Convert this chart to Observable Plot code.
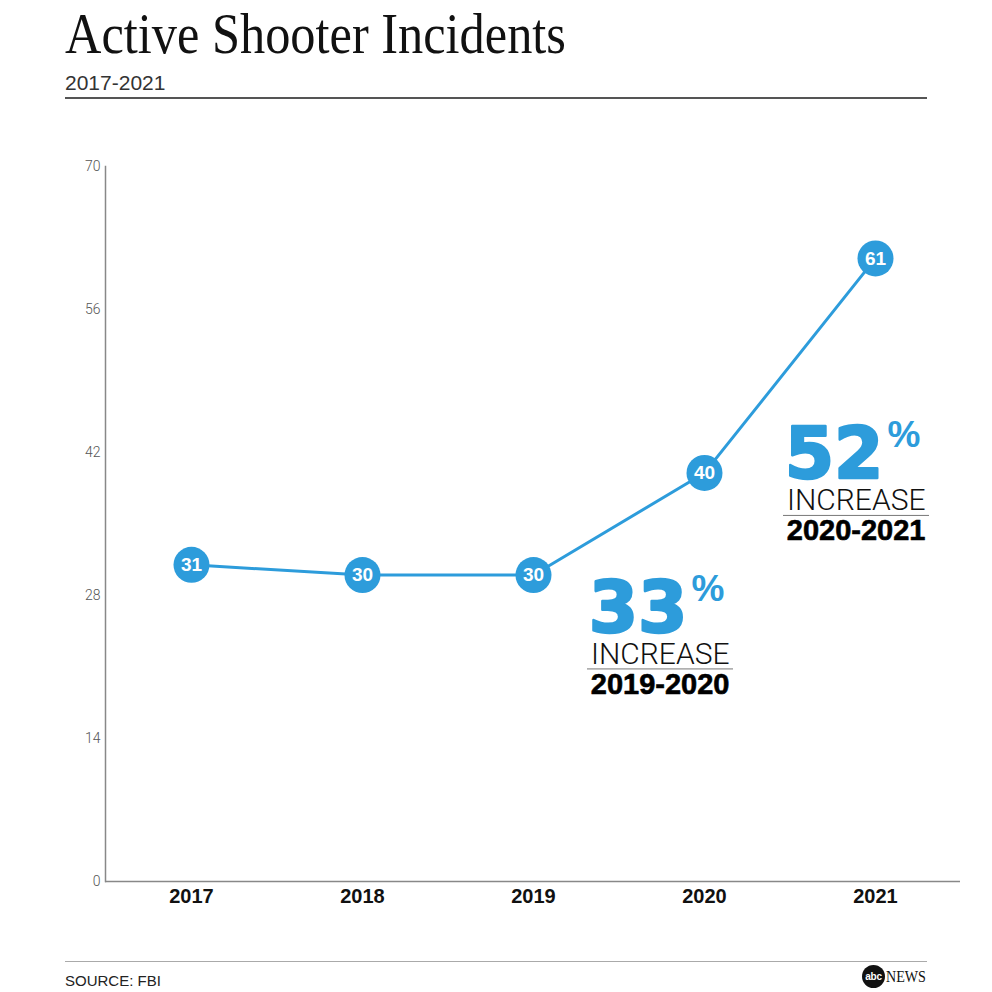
<!DOCTYPE html>
<html>
<head>
<meta charset="utf-8">
<script src="https://cdn.jsdelivr.net/npm/d3@7"></script>
<script src="https://cdn.jsdelivr.net/npm/@observablehq/plot@0.6"></script>
<style>
  html, body { margin: 0; padding: 0; background: #fff; }
  #wrap { position: relative; width: 992px; height: 992px; overflow: hidden; background: #fff; }
  #title { position: absolute; left: 65px; top: 5px; font-family: "Liberation Serif", serif; font-size: 57px; line-height: 57px; color: #111; white-space: nowrap; transform: scaleX(0.884); transform-origin: left top; }
  #subtitle { position: absolute; left: 65px; top: 72px; font-family: "Liberation Sans", sans-serif; font-size: 21px; line-height: 21px; color: #333; }
  #rule1 { position: absolute; left: 65px; top: 97px; width: 862px; height: 1.5px; background: #555; }
  #chart { position: absolute; left: 0; top: 120px; }
  #rule2 { position: absolute; left: 65px; top: 961px; width: 862px; height: 1px; background: #aaa; }
  #source { position: absolute; left: 65px; top: 973px; font-family: "Liberation Sans", sans-serif; font-size: 15px; line-height: 15px; color: #222; }
  #logo { position: absolute; left: 862px; top: 965px; height: 23px; display: flex; align-items: center; }
  #logo .abc { display: inline-block; width: 23px; height: 23px; border-radius: 50%; background: #111; color: #fff; font-family: "Liberation Sans", sans-serif; font-weight: 700; font-size: 10px; line-height: 23px; text-align: center; letter-spacing: -0.3px; }
  #logo .news { display: inline-block; margin-left: 1px; font-family: "Liberation Serif", serif; font-size: 16px; line-height: 23px; color: #111; transform: scaleX(0.88); transform-origin: left center; }
</style>
</head>
<body>
<div id="wrap">
  <div id="title">Active Shooter Incidents</div>
  <div id="subtitle">2017-2021</div>
  <div id="rule1"></div>
  <div id="chart"></div>
  <div id="rule2"></div>
  <div id="source">SOURCE: FBI</div>
  <div id="logo"><span class="abc">abc</span><span class="news">NEWS</span></div>
</div>
<script>
// ---- data ----
const years = ["2017", "2018", "2019", "2020", "2021"];
const incidents = [31, 30, 30, 40, 61];
const yTicks = [0, 14, 28, 42, 56, 70];
const increaseFrom = ["2019", "2020"];
const increaseTo = ["2020", "2021"];
const increasePct = [33, 52];

// ---- build ----
const blue = "#2d9cdb";
const data = years.map((year, i) => ({year, value: incidents[i]}));
const notes = increaseTo.map((to, i) => ({
  year: to,
  value: incidents[years.indexOf(to)],
  pct: String(increasePct[i]),
  span: `${increaseFrom[i]}-${to}`
}));

function note(d, bx, by) {
  const at = {x: "year", y: "value"};
  return [
    Plot.text([d], {...at, text: "pct", dx: bx, dy: by, textAnchor: "end", lineAnchor: "bottom",
      fill: blue, stroke: blue, strokeWidth: 2.5, fontFamily: "DejaVu Sans", fontWeight: 700, fontSize: 71}),
    Plot.text([d], {...at, text: () => "%", dx: bx + 4, dy: by - 31, textAnchor: "start", lineAnchor: "bottom",
      fill: blue, fontFamily: "Liberation Sans", fontWeight: 700, fontSize: 37}),
    Plot.text([d], {...at, text: () => "INCREASE", dx: bx + 42, dy: by + 32, textAnchor: "end", lineAnchor: "bottom",
      fill: "#111", fontFamily: "Roboto", fontWeight: 300, fontSize: 30}),
    Plot.ruleY([d], {x1: "year", x2: "year", y: "value", dy: by + 37, insetLeft: bx - 100, insetRight: -(bx + 46),
      stroke: "#777", strokeWidth: 1}),
    Plot.text([d], {...at, text: "span", dx: bx + 42, dy: by + 62, textAnchor: "end", lineAnchor: "bottom",
      fill: "#000", stroke: "#000", strokeWidth: 0.6, fontFamily: "Liberation Sans", fontWeight: 700, fontSize: 29})
  ];
}

const chart = Plot.plot({
  width: 992,
  height: 840,
  marginTop: 46,
  marginBottom: 79,
  marginLeft: 105,
  marginRight: 32,
  x: {type: "point", domain: years, padding: 0.5},
  y: {domain: [0, 70]},
  style: {fontFamily: "Liberation Sans", background: "transparent"},
  marks: [
    Plot.axisY({ticks: yTicks, tickSize: 0, tickPadding: 5, label: null, fill: "#555",
      fontSize: 14, fontFamily: "Roboto", fontWeight: 300}),
    Plot.axisX({tickSize: 0, tickPadding: 7, label: null, fill: "#111", fontSize: 20, fontWeight: 700}),
    Plot.frame({anchor: "left", stroke: "#888", strokeWidth: 1.5}),
    Plot.ruleY([0], {stroke: "#888", strokeWidth: 1.5}),
    Plot.line(data, {x: "year", y: "value", stroke: blue, strokeWidth: 3}),
    Plot.dot(data, {x: "year", y: "value", r: 18, fill: blue}),
    Plot.text(data, {x: "year", y: "value", text: "value", fill: "white", fontWeight: 700, fontSize: 19}),
    ...note(notes[0], -17, 159),
    ...note(notes[1], 8, 220)
  ]
});
document.getElementById("chart").appendChild(chart);
</script>
</body>
</html>
